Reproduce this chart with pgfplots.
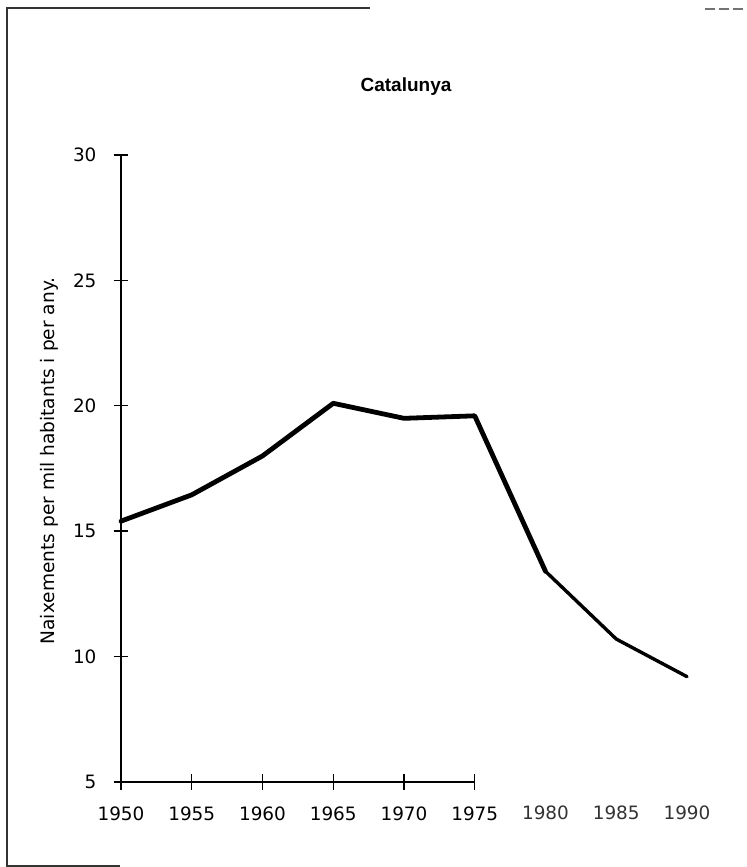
\documentclass[border=0pt]{standalone}
\usepackage{pgfplots}
\pgfplotsset{compat=1.18}
\usepackage{fontspec}
\setmainfont{Liberation Sans}
\newfontfamily\tickfont{DejaVu Sans}
\begin{document}
\begin{tikzpicture}[x=0.5pt,y=0.5pt]
\path[use as bounding box] (0,0) rectangle (747,867);
% scanned page frame
\draw[line width=0.8pt, black!80] (370,859) -- (7,859) -- (7,1) -- (120,1);
\draw[line width=0.7pt, black!55, dash pattern=on 5pt off 2pt] (705,858) -- (747,858);
\node[font=\bfseries\fontsize{9.5}{11}\selectfont] at (406,780) {Catalunya};
\node[rotate=90, font=\tickfont\fontsize{9.3}{11}\selectfont] at (49,406) {Naixements per mil habitants i per any.};
\begin{axis}[
  at={(60.5pt,42.5pt)}, anchor=south west,
  scale only axis, width=283pt, height=313.5pt,
  xmin=1950, xmax=1990, ymin=5, ymax=30,
  clip=false,
  axis y line*=left, axis x line*=bottom,
  x axis line style={draw=none},
  y axis line style={line width=0.7pt},
  tick align=center,
  major tick length=7.5pt,
  tick style={black, line width=0.7pt},
  xtick={1950,1955,1960,1965,1970,1975},
  extra x ticks={1980,1985,1990},
  extra x tick style={major tick length=0pt, xticklabel style={text=black!80, yshift=-3.5pt}},
  ytick={5,10,15,20,25,30},
  /pgf/number format/1000 sep={},
  /pgf/number format/assume math mode=true,
  ticklabel style={font=\tickfont\fontsize{9.2}{10}\selectfont},
  xticklabel style={yshift=-5pt},
  yticklabel style={xshift=-5pt},
]
\draw[line width=0.7pt] (axis cs:1950,5) -- (axis cs:1975,5);
\addplot[line width=2.4pt, line join=round, line cap=round] coordinates {
  (1950,15.4) (1955,16.45) (1960,18.0) (1965,20.1) (1970,19.5) (1975,19.6) (1980,13.4)
};
\addplot[line width=1.7pt, line join=round, line cap=round] coordinates {
  (1980,13.4) (1985,10.7) (1990,9.2)
};
\end{axis}
\end{tikzpicture}
\end{document}
